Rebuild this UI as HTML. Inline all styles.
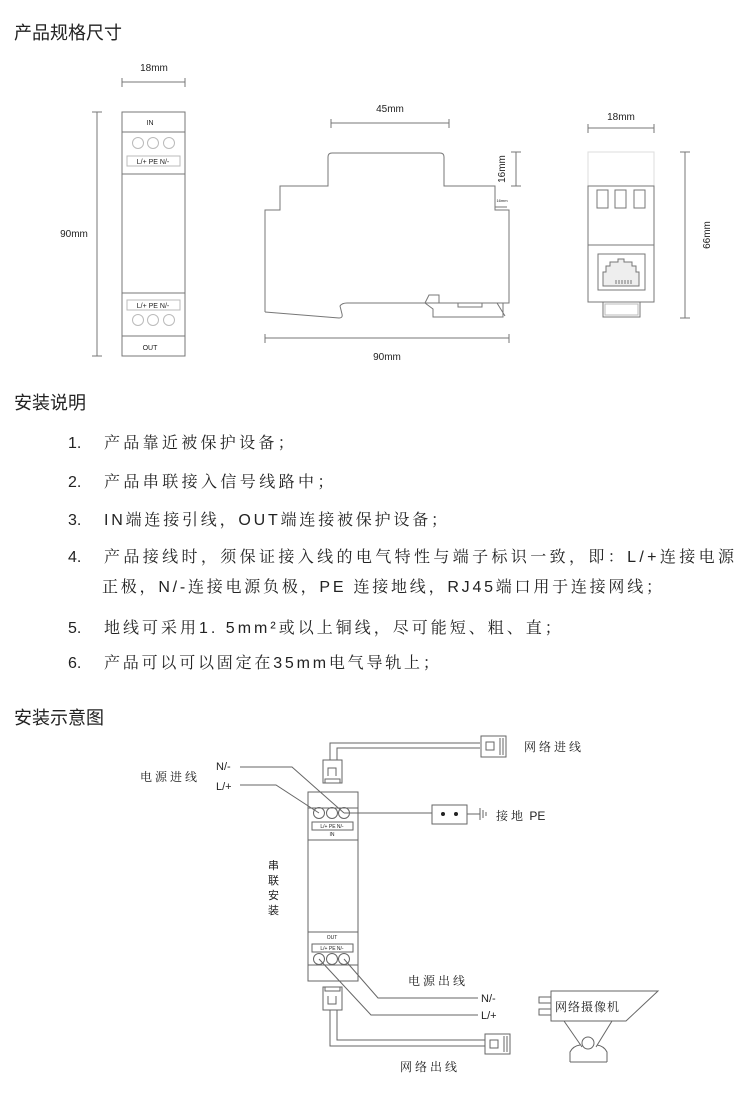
<!DOCTYPE html>
<html><head><meta charset="utf-8"><style>
body{margin:0;background:#fff;}
svg{display:block;}
text{font-family:"Liberation Sans","Noto Sans CJK SC",sans-serif;fill:#222;}
.cn{font-family:"Noto Serif CJK SC","Noto Sans CJK SC",sans-serif;}
</style></head><body>
<svg width="750" height="1111" viewBox="0 0 750 1111" xmlns="http://www.w3.org/2000/svg">
<g fill="none" stroke="#777" stroke-width="1">
<rect x="122" y="112" width="63" height="244"/>
<line x1="122" y1="132" x2="185" y2="132"/>
<line x1="122" y1="174" x2="185" y2="174"/>
<line x1="122" y1="293" x2="185" y2="293"/>
<line x1="122" y1="336" x2="185" y2="336"/>
<circle cx="138" cy="143" r="5.5" stroke="#bbb"/><circle cx="153" cy="143" r="5.5" stroke="#bbb"/><circle cx="169" cy="143" r="5.5" stroke="#bbb"/>
<circle cx="138" cy="320" r="5.5" stroke="#bbb"/><circle cx="153" cy="320" r="5.5" stroke="#bbb"/><circle cx="169" cy="320" r="5.5" stroke="#bbb"/>
<rect x="127" y="156" width="53" height="10" stroke="#bbb"/>
<rect x="127" y="300" width="53" height="10" stroke="#bbb"/>
<path d="M122 78v9M185 78v9M122 82h63"/>
<path d="M92 112h10M92 356h10M97 112v244"/>
<path d="M265 312V210h15v-24h48v-29q0-4 4-4h108q4 0 4 4v29h51v24h14v93h-6l0 14h-70v-8l-8-6 4-8h10v8"/>
<path d="M265 312l74 6q4 0 3-4l-2-8q2-3 7-3h156"/>
<path d="M458 303v4h24v-4M496 303l13 0M497 303l8 13"/>
<path d="M331 119v9M449 119v9M331 123h118"/>
<path d="M511 152h10M511 186h10M516 152v34"/>
<path d="M495 207h12M495 204v6"/>
<path d="M265 334v9M509 334v9M265 338h244"/>
<rect x="588" y="152" width="66" height="34" stroke="#ddd"/>
<rect x="588" y="186" width="66" height="116"/>
<line x1="588" y1="245" x2="654" y2="245"/>
<rect x="597" y="190" width="11" height="18"/><rect x="615" y="190" width="11" height="18"/><rect x="634" y="190" width="11" height="18"/>
<rect x="598" y="254" width="47" height="36"/>
<path d="M603 286v-14h3v-6h4v-4h8v-3h6v3h8v4h4v6h3v14z" fill="#eee"/>
<path d="M616 284v-4M619 284v-4M622 284v-4M625 284v-4M628 284v-4M631 284v-4"/>
<rect x="603" y="302" width="37" height="15"/>
<rect x="605" y="304" width="33" height="11" stroke="#bbb"/>
<path d="M588 124v9M654 124v9M588 128h66"/>
<path d="M680 152h10M680 318h10M685 152v166"/>
</g>
<g font-size="7" text-anchor="middle">
<text x="150" y="125">IN</text><text x="150" y="350">OUT</text>
<text x="153" y="164">L/+ PE N/-</text><text x="153" y="308">L/+ PE N/-</text>
</g>
<g font-size="10" text-anchor="middle">
<text x="154" y="71">18mm</text>
<text x="74" y="237">90mm</text>
<text x="390" y="112">45mm</text>
<text x="387" y="360">90mm</text>
<text x="621" y="120">18mm</text>
<text transform="translate(505,169) rotate(-90)">16mm</text>
<text transform="translate(710,235) rotate(-90)">66mm</text>
<text x="502" y="202" font-size="4">16mm</text>
</g>
<text x="14" y="39" font-size="18" style="font-family:'Noto Sans CJK SC',sans-serif">产品规格尺寸</text>
<text x="14" y="409" font-size="18" style="font-family:'Noto Sans CJK SC',sans-serif">安装说明</text>
<text x="14" y="724" font-size="18" style="font-family:'Noto Sans CJK SC',sans-serif">安装示意图</text>
<g font-size="16">
<text x="68" y="448">1.</text><text x="104" y="448" class="cn" letter-spacing="3.3">产品靠近被保护设备；</text>
<text x="68" y="487">2.</text><text x="104" y="487" class="cn" letter-spacing="3.4">产品串联接入信号线路中；</text>
<text x="68" y="525">3.</text><text x="104" y="525" letter-spacing="2.8"><tspan>IN</tspan><tspan class="cn">端连接引线，</tspan><tspan>OUT</tspan><tspan class="cn">端连接被保护设备；</tspan></text>
<text x="68" y="562">4.</text><text x="104" y="562" textLength="630"><tspan class="cn">产品接线时，须保证接入线的电气特性与端子标识一致，即：</tspan><tspan>L/+</tspan><tspan class="cn">连接电源</tspan></text>
<text x="102" y="592" textLength="560"><tspan class="cn">正极，</tspan><tspan>N/-</tspan><tspan class="cn">连接电源负极，</tspan><tspan>PE </tspan><tspan class="cn">连接地线，</tspan><tspan>RJ45</tspan><tspan class="cn">端口用于连接网线；</tspan></text>
<text x="68" y="633">5.</text><text x="104" y="633" letter-spacing="3"><tspan class="cn">地线可采用</tspan><tspan>1. 5mm²</tspan><tspan class="cn">或以上铜线，尽可能短、粗、直；</tspan></text>
<text x="68" y="668">6.</text><text x="104" y="668" letter-spacing="2.8"><tspan class="cn">产品可以可以固定在</tspan><tspan>35mm</tspan><tspan class="cn">电气导轨上；</tspan></text>
</g>
<g fill="none" stroke="#666" stroke-width="1">
<rect x="308" y="792" width="50" height="189"/>
<line x1="308" y1="808" x2="358" y2="808"/>
<line x1="308" y1="840" x2="358" y2="840"/>
<line x1="308" y1="932" x2="358" y2="932"/>
<line x1="308" y1="965" x2="358" y2="965"/>
<circle cx="319" cy="813" r="5.5"/><circle cx="332" cy="813" r="5.5"/><circle cx="344" cy="813" r="5.5"/>
<circle cx="319" cy="959" r="5.5"/><circle cx="332" cy="959" r="5.5"/><circle cx="344" cy="959" r="5.5"/>
<rect x="312" y="822" width="41" height="8"/>
<rect x="312" y="944" width="41" height="8"/>
<path d="M330 760v-17h150M337 760v-12h143"/>
<rect x="323" y="760" width="19" height="23"/>
<path d="M328 776v-8h8v8M325 783v-4h15v4"/>
<rect x="481" y="736" width="25" height="21"/>
<path d="M486 742h8v8h-8z"/><path d="M500 738v17M503 738v17"/>
<rect x="323" y="987" width="19" height="23"/>
<path d="M328 996v8h8v-8M325 987v4h15v-4"/>
<path d="M330 1010v36h155M337 1010v30h148"/>
<rect x="485" y="1034" width="25" height="20"/>
<path d="M490 1040h8v8h-8z"/><path d="M504 1036v16M507 1036v16"/>
<path d="M240 767h52l52 46M240 785h36l43 28"/>
<path d="M344 813h88"/>
<rect x="432" y="805" width="35" height="19"/>
<path d="M467 814h13M480 808v12M483 810v8M486 812v4"/>
<path d="M344 959l34 39h100M319 959l52 56h107"/>
<path d="M551 991h107l-32 30h-75z"/>
<rect x="539" y="997" width="12" height="6"/><rect x="539" y="1009" width="12" height="6"/>
<path d="M564 1021l18 26M612 1021l-16 26"/>
<circle cx="588" cy="1043" r="6"/>
<path d="M570 1062v-10q3-6 10-7M607 1062v-10q-3-6-10-7M570 1062h37"/>
</g>
<g fill="#222"><circle cx="443" cy="814" r="2"/><circle cx="456" cy="814" r="2"/></g>
<g font-size="5" text-anchor="middle"><text x="332" y="828">L/+  PE  N/-</text><text x="332" y="836">IN</text><text x="332" y="950">L/+  PE  N/-</text><text x="332" y="939">OUT</text></g>
<g font-size="11">
<text x="216" y="770">N/-</text><text x="216" y="790">L/+</text>
<text x="481" y="1002">N/-</text><text x="481" y="1019">L/+</text>
<text x="524" y="751" class="cn" font-size="12" letter-spacing="3">网络进线</text>
<text x="140" y="781" class="cn" font-size="12" letter-spacing="3">电源进线</text>
<text x="496" y="820" font-size="12"><tspan class="cn" letter-spacing="3">接地</tspan> PE</text>
<text x="408" y="985" class="cn" font-size="12" letter-spacing="3">电源出线</text>
<text x="400" y="1071" class="cn" font-size="12" letter-spacing="3">网络出线</text>
<text x="555" y="1011" class="cn" font-size="12" letter-spacing="1">网络摄像机</text>
<g class="cn" font-size="11"><text x="268" y="869">串</text><text x="268" y="884">联</text><text x="268" y="899">安</text><text x="268" y="914">装</text></g>
</g>
</svg>
</body></html>
